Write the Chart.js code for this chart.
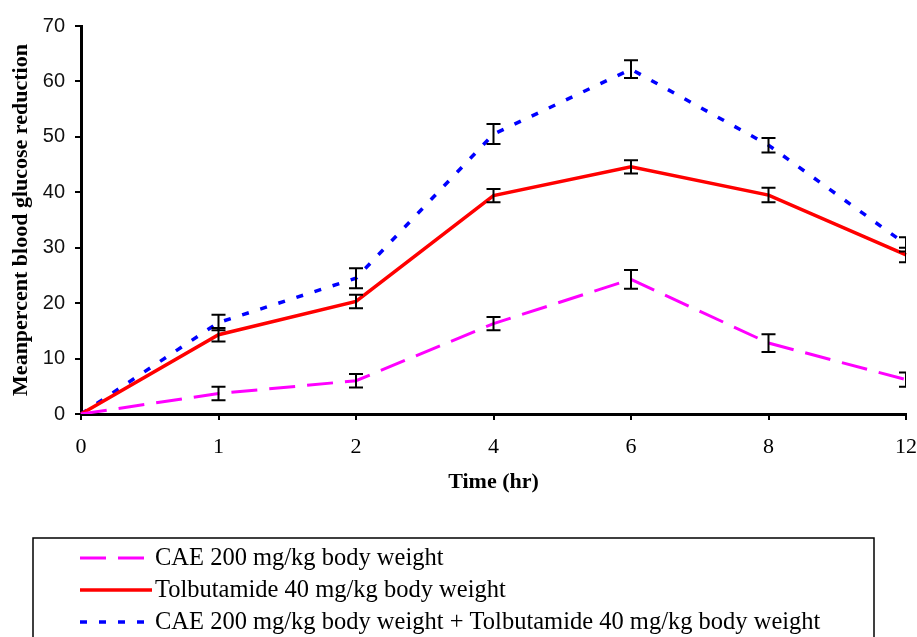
<!DOCTYPE html>
<html>
<head>
<meta charset="utf-8">
<title>Mean percent blood glucose reduction</title>
<script src="https://cdn.jsdelivr.net/npm/chart.js@4"></script>
<style>
  html, body { margin: 0; padding: 0; background: #fff; }
  #wrap { width: 917px; height: 637px; }
</style>
</head>
<body>
<div id="wrap"><canvas id="chart" width="917" height="637"></canvas></div>
<script>
// time points (hr), shown as evenly spaced categories like the original
const timeLabels = ['0', '1', '2', '4', '6', '8', '12'];

const caeValues = [0, 3.7, 6.0, 16.3, 24.3, 12.8, 6.2];
const caeErrors = [0, 1.2, 1.2, 1.2, 1.7, 1.6, 1.3];

const tolbValues = [0, 14.3, 20.3, 39.4, 44.6, 39.5, 28.7];
const tolbErrors = [0, 1.2, 1.2, 1.2, 1.2, 1.3, 1.3];

const comboValues = [0, 16.5, 24.5, 50.5, 62.2, 48.5, 30.6];
const comboErrors = [0, 1.4, 1.8, 1.8, 1.6, 1.3, 1.3];

const seriesLabels = [
  'CAE 200 mg/kg body weight',
  'Tolbutamide 40 mg/kg body weight',
  'CAE 200 mg/kg body weight + Tolbutamide 40 mg/kg body weight'
];

const yTicks = [0, 10, 20, 30, 40, 50, 60, 70];

// error bars, clipped to the plot area like the original
const errorBars = {
  id: 'errorBars',
  afterDatasetsDraw(chart) {
    const ctx = chart.ctx;
    const area = chart.chartArea;
    const x = chart.scales.x;
    const y = chart.scales.y;
    ctx.save();
    ctx.beginPath();
    ctx.rect(area.left, area.top - 10, area.right - area.left, area.bottom - area.top + 10);
    ctx.clip();
    ctx.strokeStyle = '#000';
    ctx.lineWidth = 2;
    chart.data.datasets.forEach(ds => {
      ds.data.forEach((v, i) => {
        const e = ds.errors[i];
        if (!e) return;
        const px = x.getPixelForValue(i);
        const top = y.getPixelForValue(v + e);
        const bot = y.getPixelForValue(v - e);
        ctx.beginPath();
        ctx.moveTo(px, top); ctx.lineTo(px, bot);
        ctx.moveTo(px - 7, top); ctx.lineTo(px + 7, top);
        ctx.moveTo(px - 7, bot); ctx.lineTo(px + 7, bot);
        ctx.stroke();
      });
    });
    ctx.restore();
  }
};

// boxed legend under the axis title, one series per row
const boxLegend = {
  id: 'boxLegend',
  afterDraw(chart) {
    const ctx = chart.ctx;
    const boxLeft = 33, boxTop = 538, boxRight = 874;
    ctx.save();
    ctx.strokeStyle = '#000';
    ctx.lineWidth = 1.5;
    ctx.strokeRect(boxLeft, boxTop, boxRight - boxLeft, 200);
    ctx.font = '24.5px "Liberation Serif", "Times New Roman", serif';
    ctx.textBaseline = 'middle';
    ctx.fillStyle = '#000';
    chart.data.datasets.forEach((ds, i) => {
      const rowY = 558 + i * 32;
      ctx.beginPath();
      ctx.strokeStyle = ds.borderColor;
      ctx.lineWidth = ds.borderWidth;
      ctx.setLineDash(ds.borderDash || []);
      ctx.moveTo(80, rowY); ctx.lineTo(152, rowY);
      ctx.stroke();
      ctx.setLineDash([]);
      ctx.fillText(ds.label, 155, rowY + 1);
    });
    ctx.restore();
  }
};

new Chart(document.getElementById('chart'), {
  type: 'line',
  data: {
    labels: timeLabels,
    datasets: [
      {
        label: seriesLabels[0],
        data: caeValues,
        errors: caeErrors,
        borderColor: '#ff00ff',
        borderWidth: 3,
        borderDash: [26, 12],
        pointRadius: 0,
        tension: 0,
        fill: false
      },
      {
        label: seriesLabels[1],
        data: tolbValues,
        errors: tolbErrors,
        borderColor: '#ff0000',
        borderWidth: 3.5,
        pointRadius: 0,
        tension: 0,
        fill: false
      },
      {
        label: seriesLabels[2],
        data: comboValues,
        errors: comboErrors,
        borderColor: '#0000ff',
        borderWidth: 3.5,
        borderDash: [7, 12],
        pointRadius: 0,
        tension: 0,
        fill: false
      }
    ]
  },
  options: {
    responsive: false,
    animation: false,
    devicePixelRatio: 1,
    layout: { padding: { left: 0, top: 26, right: 11, bottom: 0 } },
    plugins: {
      legend: { display: false },
      tooltip: { enabled: false }
    },
    scales: {
      x: {
        type: 'category',
        offset: false,
        afterFit: scale => {
          scale.height = 223;
          scale.paddingLeft = 0;
          scale.paddingRight = 0;
        },
        border: { display: true, color: '#000', width: 3 },
        grid: { display: true, drawOnChartArea: false, drawTicks: true, tickLength: 6, color: '#000', lineWidth: 2 },
        ticks: {
          color: '#000',
          padding: 14,
          maxRotation: 0,
          font: { family: '"Liberation Serif", "Times New Roman", serif', size: 22 }
        },
        title: {
          display: true,
          text: 'Time (hr)',
          color: '#000',
          padding: { top: 0, bottom: 141 },
          font: { family: '"Liberation Serif", "Times New Roman", serif', size: 22, weight: 'bold' }
        }
      },
      y: {
        min: 0,
        max: 70,
        afterFit: scale => {
          scale.width = 81;
          scale.paddingTop = 0;
          scale.paddingBottom = 0;
        },
        afterBuildTicks: scale => { scale.ticks = yTicks.map(v => ({ value: v })); },
        border: { display: true, color: '#000', width: 3 },
        grid: { display: true, drawOnChartArea: false, drawTicks: true, tickLength: 6, color: '#000', lineWidth: 2 },
        ticks: {
          color: '#111',
          padding: 10,
          font: { family: '"Liberation Sans", Tahoma, sans-serif', size: 20 }
        },
        title: {
          display: true,
          text: 'Meanpercent blood glucose reduction',
          color: '#000',
          padding: { top: 8, bottom: 0 },
          font: { family: '"Liberation Serif", "Times New Roman", serif', size: 22, weight: 'bold' }
        }
      }
    }
  },
  plugins: [errorBars, boxLegend]
});
</script>
</body>
</html>
